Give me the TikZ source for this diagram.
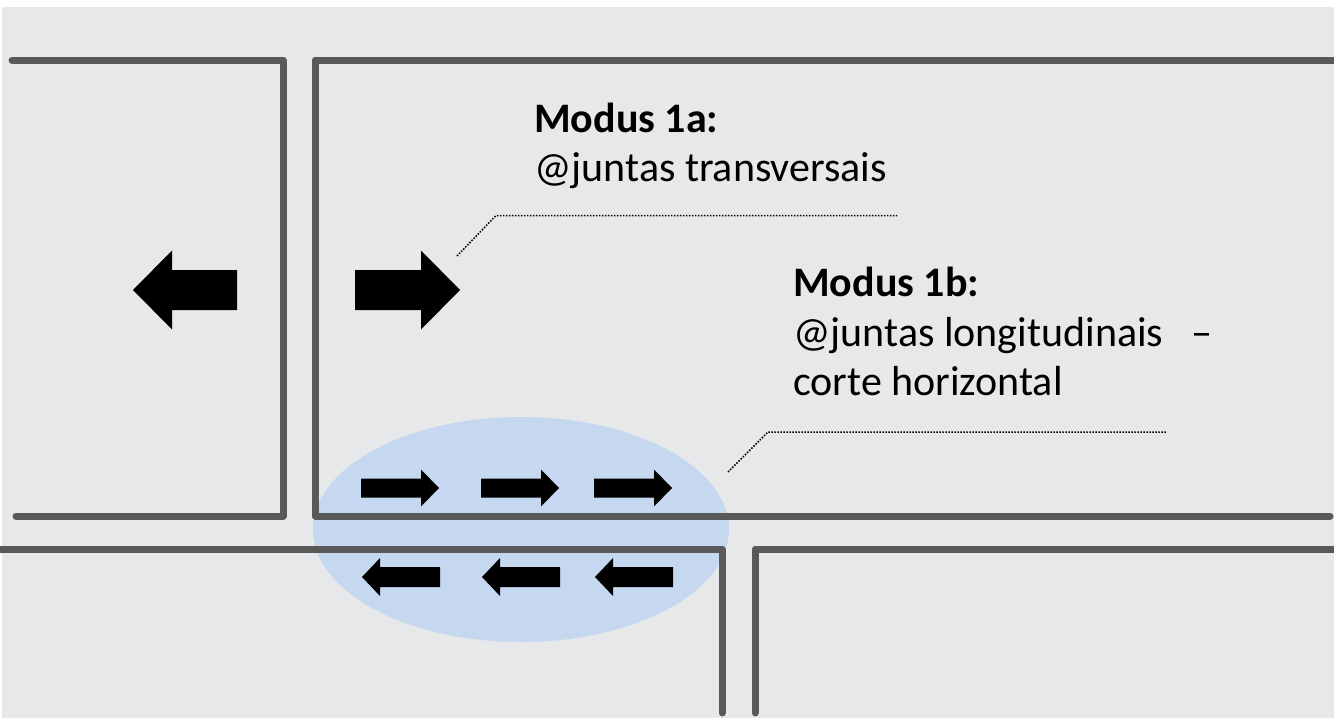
\documentclass[tikz,border=0pt]{standalone}
\usepackage{fontspec}
\setmainfont{Carlito}
\definecolor{bggray}{HTML}{E7E8EA}
\definecolor{wallgray}{HTML}{595959}
\definecolor{zoneblue}{HTML}{C5D8F0}
\tikzset{
  wall/.style={draw=wallgray, line width=7pt, line cap=round, line join=round},
  leader/.style={draw=black, line width=1.5pt, dash pattern=on 1.5pt off 1.5pt},
  arrowshape/.style={fill=black, draw=none},
  lbl/.style={anchor=base west, inner sep=0pt, font=\fontsize{42}{50}\selectfont},
}
\begin{document}
\begin{tikzpicture}[x=1pt,y=-1pt]
\useasboundingbox (0,0) rectangle (1334,720);
\fill[white] (0,0) rectangle (1334,720);
\fill[bggray] (2,7) rectangle (1334,718);
% zone
\fill[zoneblue] (521,529.5) ellipse [x radius=208, y radius=112.5];
% walls
\draw[wall] (12,60) -- (283,60) -- (283,516) -- (16,516);
\draw[wall] (1340,60) -- (315,60) -- (315,516) -- (1330,516);
\draw[wall] (-6,549) -- (722,549) -- (722,713);
\draw[wall] (755,713) -- (755,549) -- (1340,549);
% big arrows
\fill[arrowshape] (133,290) -- (172,250.5) -- (172,270) -- (237,270) -- (237,310) -- (172,310) -- (172,329.5) -- cycle;
\fill[arrowshape] (460,290) -- (421,250.5) -- (421,270) -- (355,270) -- (355,310) -- (421,310) -- (421,329.5) -- cycle;
% small arrows right
\foreach \t in {361,481,594}{
  \fill[arrowshape] (\t,478.5) -- (\t+60,478.5) -- (\t+60,469.5) -- (\t+78,488) -- (\t+60,506.5) -- (\t+60,497.5) -- (\t,497.5) -- cycle;
}
% small arrows left
\foreach \t in {362,482,595}{
  \fill[arrowshape] (\t,577) -- (\t+18,558) -- (\t+18,567) -- (\t+78,567) -- (\t+78,587) -- (\t+18,587) -- (\t+18,596) -- cycle;
}
% labels
\node[lbl] (m1a) at (534,132) {\textbf{Modus 1a:}};
\node[lbl] (m1at) at (534,181) {@juntas transversais};
\node[lbl] (m1b) at (793,296) {\textbf{Modus 1b:}};
\node[lbl] (m1bt) at (793,346) {@juntas longitudinais\hspace{28pt}–};
\node[lbl] (m1bt2) at (793,395) {corte horizontal};
% leaders
\coordinate (la0) at (457,256);
\coordinate (la1) at (496,215.5);
\coordinate (la2) at (897,215.5);
\draw[leader] (la0) -- (la1) -- (la2);
\coordinate (lb0) at (728,472);
\coordinate (lb1) at (768,432);
\coordinate (lb2) at (1167,432);
\draw[leader] (lb0) -- (lb1) -- (lb2);
\end{tikzpicture}
\end{document}
